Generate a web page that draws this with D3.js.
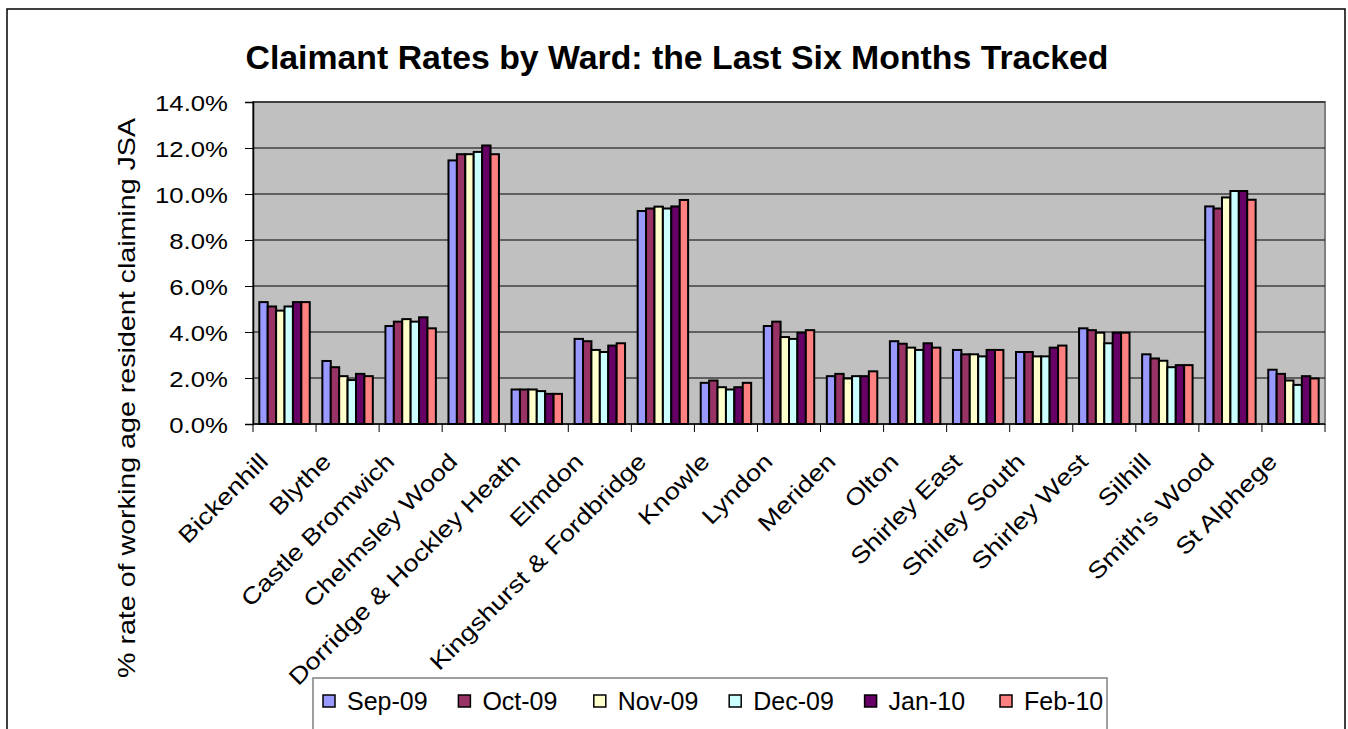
<!DOCTYPE html>
<html>
<head>
<meta charset="utf-8">
<script src="https://cdn.jsdelivr.net/npm/d3@7"></script>
<style>
  body { margin: 0; background: #fff; }
  text { font-family: "Liberation Sans", Arial, sans-serif; fill: #000; }
</style>
</head>
<body>
<div id="chart"></div>
<script>
// Data
var wards = ["Bickenhill", "Blythe", "Castle Bromwich", "Chelmsley Wood", "Dorridge & Hockley Heath",
  "Elmdon", "Kingshurst & Fordbridge", "Knowle", "Lyndon", "Meriden", "Olton", "Shirley East",
  "Shirley South", "Shirley West", "Silhill", "Smith's Wood", "St Alphege"];
var months = ["Sep-09", "Oct-09", "Nov-09", "Dec-09", "Jan-10", "Feb-10"];
var colors = ["#9999FF", "#993366", "#FFFFCC", "#CCFFFF", "#660066", "#FF8080"];

// one array per month, values in % (same order as wards)
var sep09 = [5.3, 2.74, 4.26, 11.46, 1.5, 3.7, 9.26, 1.79, 4.26, 2.08, 3.6, 3.22, 3.13, 4.16, 3.03, 9.46, 2.36];
var oct09 = [5.11, 2.47, 4.45, 11.73, 1.5, 3.6, 9.37, 1.89, 4.45, 2.18, 3.49, 3.03, 3.13, 4.08, 2.85, 9.37, 2.18];
var nov09 = [4.93, 2.08, 4.56, 11.73, 1.5, 3.22, 9.45, 1.6, 3.78, 1.98, 3.32, 3.03, 2.94, 3.97, 2.75, 9.85, 1.89];
var dec09 = [5.11, 1.91, 4.45, 11.83, 1.43, 3.13, 9.37, 1.5, 3.7, 2.08, 3.22, 2.94, 2.94, 3.51, 2.47, 10.13, 1.7];
var jan10 = [5.3, 2.18, 4.64, 12.11, 1.31, 3.41, 9.46, 1.6, 3.97, 2.08, 3.51, 3.22, 3.32, 3.97, 2.56, 10.13, 2.08];
var feb10 = [5.3, 2.08, 4.16, 11.73, 1.31, 3.51, 9.74, 1.79, 4.08, 2.29, 3.32, 3.22, 3.41, 3.97, 2.56, 9.75, 1.98];
var series = [sep09, oct09, nov09, dec09, jan10, feb10];

var yTicks = [0, 2, 4, 6, 8, 10, 12, 14];

var W = 1348, H = 729;
var plot = {left: 253, top: 102, right: 1325, bottom: 424};

var svg = d3.select("#chart").append("svg")
  .attr("width", W)
  .attr("height", H);

// outer chart border
svg.append("rect")
  .attr("x", 7).attr("y", 9)
  .attr("width", 1338).attr("height", 740)
  .attr("fill", "#fff")
  .attr("stroke", "#000")
  .attr("stroke-width", 1.5);

var x = d3.scaleBand()
  .domain(wards)
  .range([plot.left, plot.right]);

var xSub = d3.scaleBand()
  .domain(months)
  .range([0, x.bandwidth()])
  .paddingOuter(0.75);

var y = d3.scaleLinear()
  .domain([0, 14])
  .range([plot.bottom, plot.top]);

// plot background
svg.append("rect")
  .attr("x", plot.left).attr("y", plot.top)
  .attr("width", plot.right - plot.left)
  .attr("height", plot.bottom - plot.top)
  .attr("fill", "#C0C0C0")
  .attr("stroke", "#808080")
  .attr("stroke-width", 2);

// gridlines
svg.append("g").selectAll("line")
  .data(yTicks.slice(1))
  .enter().append("line")
  .attr("x1", plot.left).attr("x2", plot.right)
  .attr("y1", function(d){ return y(d); })
  .attr("y2", function(d){ return y(d); })
  .attr("stroke", "#000")
  .attr("stroke-width", 1);

// bars
var rows = [];
series.forEach(function(vals, s){
  vals.forEach(function(v, i){
    rows.push({ward: wards[i], month: months[s], s: s, value: v});
  });
});

svg.append("g").selectAll("rect")
  .data(rows)
  .enter().append("rect")
  .attr("x", function(d){ return x(d.ward) + xSub(d.month); })
  .attr("y", function(d){ return y(d.value); })
  .attr("width", xSub.bandwidth())
  .attr("height", function(d){ return y(0) - y(d.value); })
  .attr("fill", function(d){ return colors[d.s]; })
  .attr("stroke", "#000")
  .attr("stroke-width", 2);

// y axis
var yAxis = svg.append("g")
  .attr("transform", "translate(" + plot.left + ",0)")
  .call(d3.axisLeft(y).tickValues(yTicks).tickSize(8).tickPadding(0)
    .tickFormat(function(d){ return d.toFixed(1) + "%"; }));
yAxis.select(".domain").attr("stroke", "#000").attr("stroke-width", 1.5);
yAxis.selectAll(".tick line").attr("stroke", "#000");
yAxis.selectAll(".tick text")
  .attr("x", null).attr("dy", null)
  .attr("transform", "translate(-25,8) scale(1.12,1)")
  .style("font-size", "23px");

// x axis
var xAxis = svg.append("g")
  .attr("transform", "translate(0," + plot.bottom + ")");
xAxis.append("line")
  .attr("x1", plot.left).attr("x2", plot.right)
  .attr("stroke", "#000").attr("stroke-width", 1.5);
xAxis.selectAll(".tk")
  .data(wards.concat(["end"]))
  .enter().append("line")
  .attr("x1", function(d, i){ return plot.left + i * x.step(); })
  .attr("x2", function(d, i){ return plot.left + i * x.step(); })
  .attr("y1", 0).attr("y2", 8)
  .attr("stroke", "#000");
xAxis.selectAll(".lbl")
  .data(wards)
  .enter().append("text")
  .attr("text-anchor", "end")
  .attr("transform", function(d){
    return "translate(" + (x(d) + x.bandwidth() / 2 - 15) + ",39) rotate(-45) scale(1.19,1)";
  })
  .style("font-size", "23px")
  .text(function(d){ return d; });

// title
svg.append("text")
  .attr("x", 677).attr("y", 69)
  .attr("text-anchor", "middle")
  .attr("textLength", 863)
  .attr("lengthAdjust", "spacingAndGlyphs")
  .style("font-size", "34px")
  .style("font-weight", "bold")
  .text("Claimant Rates by Ward: the Last Six Months Tracked");

// y axis title
svg.append("text")
  .attr("transform", "translate(135,398) rotate(-90)")
  .attr("text-anchor", "middle")
  .attr("textLength", 560)
  .attr("lengthAdjust", "spacingAndGlyphs")
  .style("font-size", "24px")
  .text("% rate of working age resident claiming JSA");

// legend
var lg = svg.append("g");
lg.append("rect")
  .attr("x", 313).attr("y", 678)
  .attr("width", 794).attr("height", 60)
  .attr("fill", "#fff")
  .attr("stroke", "#808080")
  .attr("stroke-width", 1.5);

var legendX = d3.scalePoint().domain(months).range([323, 1000]);
var item = lg.selectAll(".item")
  .data(months)
  .enter().append("g")
  .attr("transform", function(d){ return "translate(" + legendX(d) + ",701)"; });
item.append("rect")
  .attr("x", 0).attr("y", -6)
  .attr("width", 12).attr("height", 12)
  .attr("fill", function(d, i){ return colors[i]; })
  .attr("stroke", "#000")
  .attr("stroke-width", 1.5);
item.append("text")
  .attr("x", 24).attr("y", 9)
  .attr("transform", "scale(1,1)")
  .style("font-size", "25px")
  .text(function(d){ return d; });
</script>
</body>
</html>
